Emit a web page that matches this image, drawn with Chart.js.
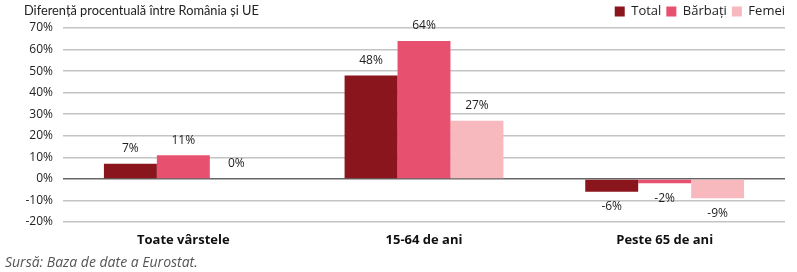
<!DOCTYPE html>
<html><head><meta charset="utf-8">
<script src="https://cdn.jsdelivr.net/npm/chart.js@4"></script>
<style>
html,body{margin:0;padding:0;background:#fff;}
#wrap{position:relative;width:797px;height:272px;overflow:hidden;}
#title{position:absolute;left:24px;top:2px;font:12.8px Lato,sans-serif;color:#222;white-space:nowrap;}
#src{position:absolute;left:5px;top:252px;font:italic 14px "Open Sans",sans-serif;color:#555;white-space:nowrap;}
canvas{position:absolute;left:0;top:0;}
</style></head>
<body><div id="wrap">
<canvas id="c" width="797" height="272"></canvas>
<div id="title">Diferență procentuală între România și UE</div>
<div id="src">Sursă: Baza de date a Eurostat.</div>
</div>
<script>
const categories = ["Toate vârstele", "15-64 de ani", "Peste 65 de ani"];
const seriesNames = ["Total", "Bărbați", "Femei"];
const totalValues = [7, 48, -6];
const barbatiValues = [11, 64, -2];
const femeiValues = [0, 27, -9];
const colors = ["#8b151c", "#e8506f", "#f8b9be"];

const FONT = '"Open Sans", sans-serif';

const labelPlugin = {
  id: 'valueLabels',
  afterLayout(chart) {
    if (chart.legend) { chart.legend.left += 5; chart.legend.right += 5; }
  },
  afterDatasetsDraw(chart) {
    const ctx = chart.ctx;
    ctx.save();
    ctx.font = '12px ' + FONT;
    ctx.fillStyle = '#222';
    ctx.textAlign = 'center';
    ctx.textBaseline = 'middle';
    chart.data.datasets.forEach((ds, i) => {
      const meta = chart.getDatasetMeta(i);
      meta.data.forEach((bar, j) => {
        const v = ds.data[j];
        const y = v >= 0 ? bar.y - 15 : bar.y + 15;
        ctx.fillText(v + '%', bar.x, y);
      });
    });
    ctx.restore();
  }
};

new Chart(document.getElementById('c'), {
  type: 'bar',
  data: {
    labels: categories,
    datasets: [
      { label: seriesNames[0], data: totalValues, backgroundColor: colors[0] },
      { label: seriesNames[1], data: barbatiValues, backgroundColor: colors[1] },
      { label: seriesNames[2], data: femeiValues, backgroundColor: colors[2] }
    ]
  },
  options: {
    responsive: false,
    animation: false,
    layout: { padding: { left: 0, right: 12, top: 0, bottom: 22 } },
    datasets: { bar: { categoryPercentage: 0.66, barPercentage: 1.0 } },
    plugins: {
      tooltip: { enabled: false },
      title: { display: false },
      legend: {
        position: 'top',
        align: 'end',
        labels: {
          font: { family: FONT, size: 13 },
          color: '#222',
          boxWidth: 10,
          boxHeight: 10,
          padding: 5
        }
      }
    },
    scales: {
      x: {
        grid: { display: false, drawTicks: false },
        border: { display: false },
        ticks: { font: { family: FONT, size: 13, weight: 'bold' }, color: '#111', padding: 10 },
        afterFit(s) { s.height = 28; }
      },
      y: {
        min: -20, max: 70,
        ticks: { stepSize: 10, callback: v => v + '%', font: { family: FONT, size: 12 }, color: '#222', padding: 10 },
        grid: {
          drawTicks: false,
          color: ctx => ctx.tick && ctx.tick.value === 0 ? '#666' : '#c4c4c4',
          lineWidth: 1.5
        },
        border: { display: false },
        afterFit(s) { s.width = 63; }
      }
    }
  },
  plugins: [labelPlugin]
});
</script>
</body></html>
